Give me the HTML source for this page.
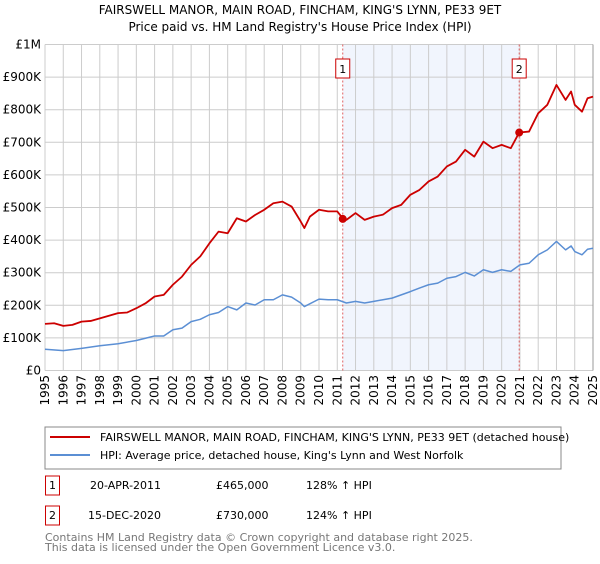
<!DOCTYPE html>
<html><head><meta charset="utf-8"><style>
body{margin:0;background:#fff;font-family:"DejaVu Sans","Liberation Sans",sans-serif;}
svg text{font-family:"DejaVu Sans","Liberation Sans",sans-serif;}
</style></head><body>
<svg id="c" width="600" height="560" xmlns="http://www.w3.org/2000/svg">
<text x="300" y="14" font-size="12" text-anchor="middle" fill="#000">FAIRSWELL MANOR, MAIN ROAD, FINCHAM, KING'S LYNN, PE33 9ET</text>
<text x="300" y="31" font-size="12" text-anchor="middle" fill="#000">Price paid vs. HM Land Registry's House Price Index (HPI)</text>
<g id="plot"></g>
<g>
<rect x="45" y="427" width="516" height="42" fill="#fff" stroke="#888"/>
<line x1="50" y1="437" x2="90" y2="437" stroke="#cc0000" stroke-width="2"/>
<text x="100" y="441" font-size="11">FAIRSWELL MANOR, MAIN ROAD, FINCHAM, KING'S LYNN, PE33 9ET (detached house)</text>
<line x1="50" y1="455" x2="90" y2="455" stroke="#5b8fd4" stroke-width="2"/>
<text x="100" y="459" font-size="11">HPI: Average price, detached house, King's Lynn and West Norfolk</text>
</g>
<g font-size="11">
<rect x="45.5" y="476" width="14" height="19" fill="#fff" stroke="#cc0000"/>
<text x="52.5" y="489" text-anchor="middle">1</text>
<text x="90" y="489">20-APR-2011</text>
<text x="216" y="489">£465,000</text>
<text x="306" y="489">128% ↑ HPI</text>
<rect x="45.5" y="506" width="14" height="19" fill="#fff" stroke="#cc0000"/>
<text x="52.5" y="519" text-anchor="middle">2</text>
<text x="88" y="519">15-DEC-2020</text>
<text x="216" y="519">£730,000</text>
<text x="306" y="519">124% ↑ HPI</text>
</g>
<text x="45" y="541" font-size="11" fill="#777">Contains HM Land Registry data © Crown copyright and database right 2025.</text>
<text x="45" y="551" font-size="11" fill="#777">This data is licensed under the Open Government Licence v3.0.</text>
</svg>
<script>
const redYears=[1995,1995.5,1996,1996.5,1997,1997.5,1998,1998.5,1999,1999.5,2000,2000.5,2001,2001.5,2002,2002.5,2003,2003.5,2004,2004.5,2005,2005.5,2006,2006.5,2007,2007.5,2008,2008.5,2009,2009.2,2009.5,2010,2010.5,2011,2011.3,2011.5,2012,2012.5,2013,2013.5,2014,2014.5,2015,2015.5,2016,2016.5,2017,2017.5,2018,2018.5,2019,2019.5,2020,2020.5,2020.96,2021.5,2022,2022.5,2023,2023.5,2023.8,2024,2024.4,2024.7,2025];
const redValues=[143,145,137,140,150,152,160,168,176,178,191,206,227,232,263,288,324,350,390,426,421,467,457,477,493,513,518,503,457,437,472,493,488,488,467,462,483,462,472,478,498,508,539,554,580,595,626,641,677,656,702,682,692,682,730,733,789,815,876,830,856,815,794,835,840];
const blueYears=[1995,1996,1997,1998,1999,2000,2000.5,2001,2001.5,2002,2002.5,2003,2003.5,2004,2004.5,2005,2005.5,2006,2006.5,2007,2007.5,2008,2008.5,2009,2009.2,2010,2010.5,2011,2011.5,2012,2012.5,2013,2013.5,2014,2014.5,2015,2015.5,2016,2016.5,2017,2017.5,2018,2018.5,2019,2019.5,2020,2020.5,2021,2021.5,2022,2022.5,2023,2023.5,2023.8,2024,2024.4,2024.7,2025];
const blueValues=[65,61,68,76,82,92,99,106,106,125,130,150,157,171,178,196,186,207,201,217,217,232,225,207,196,219,217,217,207,212,207,212,217,222,232,242,253,263,268,283,288,301,290,309,301,309,304,324,329,355,370,396,370,382,365,355,372,375];
const saleYears=[2011.3,2020.96];
const saleValues=[465,730];
const yTicks=[0,100,200,300,400,500,600,700,800,900,1000];
const yTickLabels=['£0','£100K','£200K','£300K','£400K','£500K','£600K','£700K','£800K','£900K','£1M'];
const xTicks=[];for(let y=1995;y<=2025;y++)xTicks.push(y);

const X0=45,X1=593,Y0=370.5,Y1=44.5;
const xs=y=>X0+(y-1995)/30*(X1-X0);
const ys=v=>Y0-v/1000*(Y0-Y1);
const NS='http://www.w3.org/2000/svg';
const g=document.getElementById('plot');
function mk(t,a){const e=document.createElementNS(NS,t);for(const k in a)e.setAttribute(k,a[k]);g.appendChild(e);return e;}

let r=mk('rect',{x:xs(saleYears[0]),y:Y1,width:xs(saleYears[1])-xs(saleYears[0]),height:Y0-Y1,fill:'#eef3fd',opacity:0.8});


yTicks.forEach((v,i)=>{
 let l=mk('line',{x1:X0,x2:X1,y1:ys(v),y2:ys(v),stroke:'#cccccc','stroke-width':1});
 
 
 let t=mk('text',{x:X0-4,y:ys(v)+4,'font-size':12,'text-anchor':'end',fill:'#000'});
 t.textContent=yTickLabels[i];
 
 
});
xTicks.forEach(y=>{
 let l=mk('line',{x1:xs(y),x2:xs(y),y1:Y1,y2:Y0,stroke:'#cccccc','stroke-width':1});
 
 
 let t=mk('text',{x:0,y:0,'font-size':12,'text-anchor':'end',transform:`translate(${xs(y)+4},375) rotate(-90)`});
 t.textContent=y;
 
 
});
let ax=mk('line',{x1:X1,x2:X1,y1:Y1,y2:Y0,stroke:'#999','stroke-width':1});


saleYears.forEach((y,i)=>{
 let l=mk('line',{x1:xs(y),x2:xs(y),y1:Y1,y2:Y0,stroke:'#e06060','stroke-width':1,'stroke-dasharray':'2,2'});
 
 
 let b=mk('rect',{x:xs(y)-7,y:59,width:14,height:19,fill:'#fff',stroke:'#cc0000'});
 
 
 let t=mk('text',{x:xs(y),y:73,'font-size':11,'text-anchor':'middle'});
 t.textContent=String(i+1);
 
 
});
function line(yrs,vals,col,name,w){
 let p=mk('polyline',{points:yrs.map((y,i)=>xs(y)+','+ys(vals[i])).join(' '),fill:'none',stroke:col,'stroke-width':w,'stroke-linejoin':'round'});
 
 
}
line(blueYears,blueValues,'#5b8fd4','hpi-line',1.5);
line(redYears,redValues,'#cc0000','property-price-line',1.8);
saleYears.forEach((y,i)=>{
 let c=mk('circle',{cx:xs(y),cy:ys(saleValues[i]),r:4,fill:'#cc0000'});
 
 
});
</script>
</body></html>
